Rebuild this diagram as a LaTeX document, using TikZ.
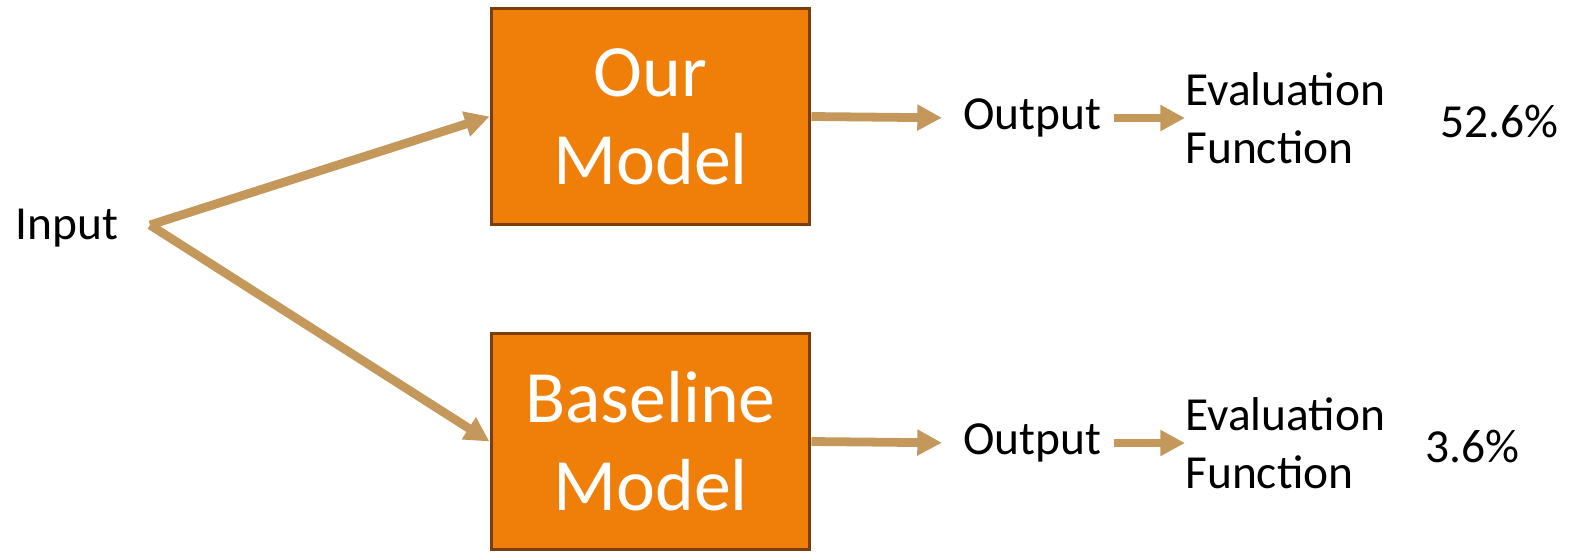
\documentclass[tikz,border=0pt]{standalone}
\usepackage{fontspec}
\setmainfont{Carlito}
\usetikzlibrary{arrows.meta}
\definecolor{boxorange}{HTML}{F07F09}
\definecolor{boxedge}{HTML}{7A3E0C}
\definecolor{flowtan}{HTML}{C4985A}

\begin{document}
\begin{tikzpicture}[x=0.02cm, y=-0.02cm,
        model/.style={rectangle, draw=boxedge, fill=boxorange, line width=1.7pt, text=white, align=center, minimum width=6.38cm, minimum height=4.34cm, font=\fontsize{42}{50}\selectfont},
        label/.style={inner sep=0pt, anchor=west, font=\fontsize{27}{33}\selectfont},
        flow/.style={draw=flowtan, line width=5pt, -{Triangle[length=14pt, width=14pt]}},
    ]
    \useasboundingbox (0,0) rectangle (1573,552);

    \node[label] (input) at (15,228) {Input};
    \coordinate (fork) at (150,225);

    \node[model] (ourmodel) at (650.5,116.5) {Our\\Model};
    \node[model] (basemodel) at (650.5,441.5) {Baseline\\Model};

    \node[label] (out1) at (963,118) {Output};
    \node[label, align=left] (eval1) at (1185,118) {Evaluation\\Function};
    \node[label] (score1) at (1440,122) {52.6\%};

    \node[label] (out2) at (963,443) {Output};
    \node[label, align=left] (eval2) at (1185,443) {Evaluation\\Function};
    \node[label] (score2) at (1425,447) {3.6\%};

    \path (fork) edge[flow] (ourmodel.west);
    \path (fork) edge[flow] (basemodel.west);

    \path (ourmodel.east) edge[flow, shorten >=12pt] (out1.west);
    \path (out1.east) edge[flow, shorten <=7pt] (eval1.west);

    \path (basemodel.east) edge[flow, shorten >=12pt] (out2.west);
    \path (out2.east) edge[flow, shorten <=7pt] (eval2.west);
\end{tikzpicture}
\end{document}
